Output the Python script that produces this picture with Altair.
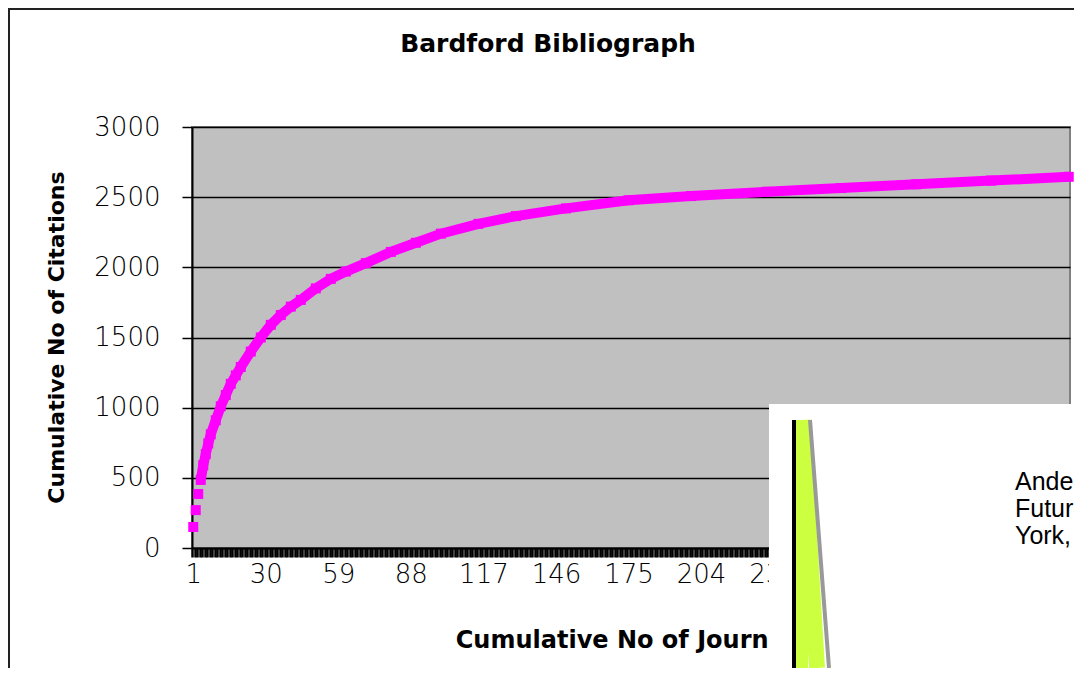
import altair as alt
import pandas as pd

# Values
journal_no = [1, 2, 3, 4, 5, 6, 7, 8, 10, 12, 14, 16, 18, 20, 24, 28, 32, 36, 40, 44,
              50, 56, 62, 70, 80, 90, 100, 115, 130, 150, 175, 200, 230, 260, 290, 320, 351]
cum_citations = [150, 270, 385, 485, 590, 670, 745, 810, 910, 1010, 1090, 1170, 1230, 1290,
                 1400, 1500, 1590, 1660, 1720, 1768, 1850, 1918, 1970, 2030, 2110, 2175,
                 2240, 2310, 2365, 2420, 2478, 2508, 2538, 2565, 2592, 2618, 2645]
x_label_values = [1, 30, 59, 88, 117, 146, 175, 204, 233, 262, 291, 320, 349]
y_tick_values = [0, 500, 1000, 1500, 2000, 2500, 3000]
n_journals = 351

title_text = "Bardford Bibliograph"
x_title = "Cumulative No of Journals"
y_title = "Cumulative No of Citations"
overlay_lines = "Anderson\nFuture\nYork, Hyperion"

df = pd.DataFrame({"journal": journal_no, "citations": cum_citations})
one = pd.DataFrame({"k": [0]})

W, H = 878, 421
PAD_L, PAD_T, PAD_R, PAD_B = 184, 119, 4, 120
TOTAL_H = PAD_T + H + PAD_B
LBL_FONT = "DejaVu Sans"

xscale = alt.Scale(domain=[0.5, n_journals + 0.5], nice=False, zero=False)
yscale = alt.Scale(domain=[0, 3000], nice=False, zero=True)

y_axis = alt.Axis(values=y_tick_values, format="d", tickSize=10, tickColor="#000",
                  tickWidth=1.5, domainColor="#000", domainWidth=2, grid=True,
                  gridColor="#000", gridWidth=1.5, gridOpacity=1, labelFont=LBL_FONT,
                  labelFontSize=26, labelFontWeight=200, labelColor="#000", labelPadding=22,
                  title=y_title, titleFont=LBL_FONT, titleFontSize=22,
                  titleFontWeight="bold", titleColor="#000", titleX=-136, titleY=210,
                  titleAngle=270, titleAlign="center", titleBaseline="middle")

tick_axis = alt.Axis(values=[k + 0.5 for k in range(n_journals + 1)], labels=False,
                     tickSize=9, tickWidth=2.5, tickColor="#000", domainColor="#000",
                     domainWidth=2, grid=False, title=None, orient="bottom")

label_axis = alt.Axis(values=x_label_values, ticks=False, tickSize=0, domain=False,
                      grid=False, labelFont=LBL_FONT, labelFontSize=26, labelFontWeight=200,
                      labelColor="#000", labelPadding=13, orient="bottom",
                      title=x_title, titleFont=LBL_FONT, titleFontSize=24,
                      titleFontWeight="bold", titleColor="#000", titleX=439, titleY=92,
                      titleAlign="center", titleBaseline="middle")

line = alt.Chart(df).mark_line(color="#ff00ff", strokeWidth=10).encode(
    x=alt.X("journal:Q", scale=xscale, axis=tick_axis),
    y=alt.Y("citations:Q", scale=yscale, axis=y_axis),
).transform_filter("datum.journal >= 4")

points = alt.Chart(df).mark_square(size=100, color="#ff00ff", opacity=1).encode(
    x=alt.X("journal:Q", scale=xscale, axis=label_axis),
    y=alt.Y("citations:Q", scale=yscale, axis=y_axis),
)

title = alt.Chart(one).mark_text(font=LBL_FONT, fontSize=25, fontWeight="bold",
                                 color="#000", align="center", baseline="middle").encode(
    x=alt.value(356), y=alt.value(-83), text=alt.value(title_text))

# overlapping picture in lower right
BOT = TOTAL_H - PAD_T
box = alt.Chart(one).mark_rect(color="white").encode(
    x=alt.value(577), x2=alt.value(W + 20), y=alt.value(277), y2=alt.value(BOT))
green1 = alt.Chart(one).mark_rule(color="#ccff40", strokeWidth=12).encode(
    x=alt.value(610), y=alt.value(293), y2=alt.value(BOT))
green2 = alt.Chart(one).mark_rule(color="#ccff40", strokeWidth=16).encode(
    x=alt.value(610), x2=alt.value(625), y=alt.value(293), y2=alt.value(BOT))
grayedge = alt.Chart(one).mark_rule(color="#999999", strokeWidth=4).encode(
    x=alt.value(618), x2=alt.value(637), y=alt.value(293), y2=alt.value(BOT))
blackline = alt.Chart(one).mark_rule(color="#000", strokeWidth=4).encode(
    x=alt.value(602), y=alt.value(293), y2=alt.value(BOT))
ovtext = alt.Chart(one).mark_text(font="Liberation Sans", fontSize=25, color="#000",
                                  align="left", baseline="alphabetic", lineBreak="\n",
                                  lineHeight=27).encode(
    x=alt.value(823), y=alt.value(363), text=alt.value(overlay_lines))

# outer frame
frame_left = alt.Chart(one).mark_rule(color="#222", strokeWidth=2).encode(
    x=alt.value(-PAD_L + 1), y=alt.value(-PAD_T), y2=alt.value(BOT))
frame_top = alt.Chart(one).mark_rule(color="#222", strokeWidth=2).encode(
    x=alt.value(-PAD_L), x2=alt.value(W + PAD_R), y=alt.value(-PAD_T + 1))

chart = alt.layer(line, points, title, box, green1, green2, grayedge, blackline, ovtext,
                  frame_left, frame_top).resolve_axis(x="independent").properties(
    width=W, height=H, autosize="none",
    padding={"left": PAD_L, "top": PAD_T, "right": PAD_R, "bottom": PAD_B},
    background="white",
).configure_view(fill="#c0c0c0", stroke="#808080", strokeWidth=2)

chart.save("out.html", embed_options={"renderer": "svg", "actions": False})
